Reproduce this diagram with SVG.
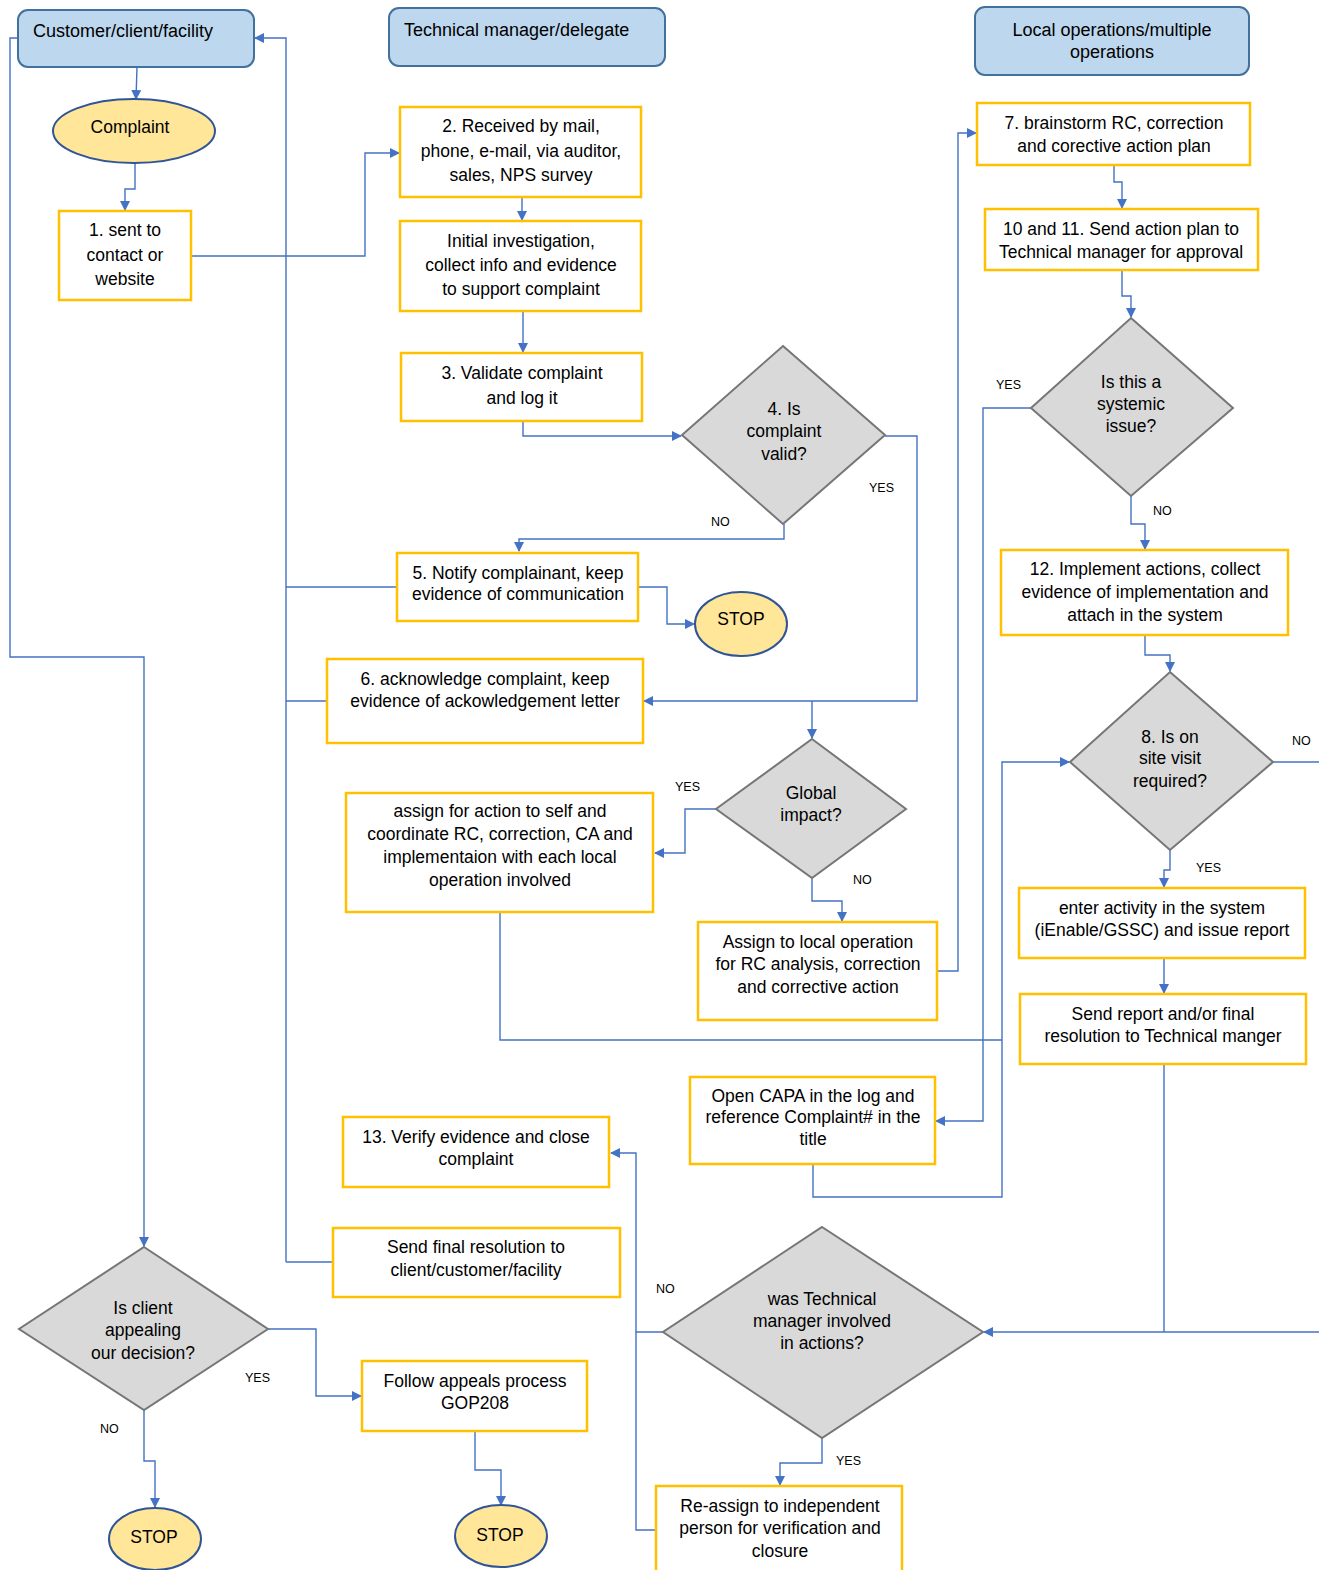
<svg xmlns="http://www.w3.org/2000/svg" width="1319" height="1570" viewBox="0 0 1319 1570">
<style>
text{font-family:"Liberation Sans",Arial,sans-serif;font-size:17.5px;fill:#000}
.c{text-anchor:middle}
.h{font-size:18px}
.lbl{font-size:12.5px}
.hdr{fill:#BDD7EE;stroke:#41719C;stroke-width:2}
.box{fill:#fff;stroke:#FFC000;stroke-width:2.5}
.dia{fill:#D9D9D9;stroke:#767676;stroke-width:2}
.ell{fill:#FFE699;stroke:#2F5597;stroke-width:2}
.cn{fill:none;stroke:#4472C4;stroke-width:1.4}
.ar{marker-end:url(#arr)}
</style>
<defs>
<marker id="arr" viewBox="0 0 10 10" refX="9" refY="5" markerWidth="10" markerHeight="10" markerUnits="userSpaceOnUse" orient="auto">
<path d="M0,0 L10,5 L0,10 z" fill="#4472C4"/>
</marker>
</defs>
<rect width="1319" height="1570" fill="#fff"/>

<g id="connectors">
<path class="cn ar" d="M137,67 L136,99"/>
<path class="cn ar" d="M135,163 L135,189 L125,189 L125,210"/>
<path class="cn ar" d="M191,256 L365,256 L365,153 L399,153"/>
<path class="cn ar" d="M522,197 L522,220"/>
<path class="cn ar" d="M523,311 L523,352"/>
<path class="cn ar" d="M523,421 L523,436 L681,436"/>
<path class="cn ar" d="M784,524 L784,539 L519,539 L519,551"/>
<path class="cn ar" d="M885,436 L917,436 L917,701 L644,701"/>
<path class="cn ar" d="M812,701 L812,738"/>
<path class="cn ar" d="M638,587 L667,587 L667,624 L694,624"/>
<path class="cn ar" d="M286,1262 L286,38 L255,38"/>
<path class="cn" d="M397,587 L286,587 M327,701 L286,701 M333,1262 L286,1262"/>
<path class="cn ar" d="M716,809 L685,809 L685,853 L655,853"/>
<path class="cn ar" d="M812,878 L812,901 L842,901 L842,921"/>
<path class="cn ar" d="M937,971 L958,971 L958,133 L976,133"/>
<path class="cn ar" d="M500,912 L500,1040 L1002,1040 M813,1164 L813,1197 L1002,1197 L1002,762 L1069,762"/>
<path class="cn ar" d="M1114,165 L1114,182 L1122,182 L1122,208"/>
<path class="cn ar" d="M1122,270 L1122,296 L1131,296 L1131,317"/>
<path class="cn ar" d="M1031,408 L983,408 L983,1121 L936,1121"/>
<path class="cn ar" d="M1131,496 L1131,524 L1145,524 L1145,549"/>
<path class="cn ar" d="M1145,635 L1145,655 L1170,655 L1170,671"/>
<path class="cn" d="M1273,762 L1319,762"/>
<path class="cn ar" d="M1170,850 L1170,870 L1164,870 L1164,887"/>
<path class="cn ar" d="M1164,958 L1164,993"/>
<path class="cn ar" d="M1319,1332 L984,1332"/>
<path class="cn" d="M1164,1064 L1164,1332"/>
<path class="cn ar" d="M663,1332 L636,1332 L636,1153 L611,1153"/>
<path class="cn" d="M656,1530 L636,1530 L636,1332"/>
<path class="cn ar" d="M822,1438 L822,1463 L780,1463 L780,1485"/>
<path class="cn ar" d="M18,38 L10,38 L10,657 L144,657 L144,1246"/>
<path class="cn ar" d="M268,1329 L316,1329 L316,1396 L361,1396"/>
<path class="cn ar" d="M144,1410 L144,1461 L155,1461 L155,1507"/>
<path class="cn ar" d="M475,1431 L475,1470 L501,1470 L501,1505"/>
</g>

<g id="h-customer"><rect class="hdr" x="18" y="10" width="236" height="57" rx="10"/><text class="h" x="33" y="37">Customer/client/facility</text></g>
<g id="h-technical"><rect class="hdr" x="389" y="8" width="276" height="58" rx="10"/><text class="h" x="404" y="36">Technical manager/delegate</text></g>
<g id="h-local"><rect class="hdr" x="975" y="7" width="274" height="68" rx="10"/><text class="c h" x="1112" y="36">Local operations/multiple</text><text class="c h" x="1112" y="58">operations</text></g>

<g id="complaint"><ellipse class="ell" cx="134" cy="131" rx="81" ry="32"/><text class="c" x="130" y="133">Complaint</text></g>
<g id="n1"><rect class="box" x="59" y="211" width="132" height="89"/><text class="c" x="125" y="236">1. sent to</text><text class="c" x="125" y="261">contact or</text><text class="c" x="125" y="285">website</text></g>
<g id="n2"><rect class="box" x="400" y="107" width="241" height="90"/><text class="c" x="521" y="132">2. Received by mail,</text><text class="c" x="521" y="157">phone, e-mail, via auditor,</text><text class="c" x="521" y="181">sales, NPS survey</text></g>
<g id="ninit"><rect class="box" x="400" y="221" width="241" height="90"/><text class="c" x="521" y="247">Initial investigation,</text><text class="c" x="521" y="271">collect info and evidence</text><text class="c" x="521" y="295">to support complaint</text></g>
<g id="n3"><rect class="box" x="401" y="353" width="241" height="68"/><text class="c" x="522" y="379">3. Validate complaint</text><text class="c" x="522" y="404">and log it</text></g>
<g id="d4"><polygon class="dia" points="783,346 885,435 783,524 682,435"/><text class="c" x="784" y="415">4. Is</text><text class="c" x="784" y="437">complaint</text><text class="c" x="784" y="460">valid?</text></g>
<text class="lbl" x="869" y="492">YES</text>
<text class="lbl" x="711" y="526">NO</text>
<g id="n5"><rect class="box" x="397" y="553" width="241" height="68"/><text class="c" x="518" y="579">5. Notify complainant, keep</text><text class="c" x="518" y="600">evidence of communication</text></g>
<g id="stop1"><ellipse class="ell" cx="741" cy="624" rx="46" ry="32"/><text class="c" x="741" y="625">STOP</text></g>
<g id="n6"><rect class="box" x="327" y="659" width="316" height="84"/><text class="c" x="485" y="685">6. acknowledge complaint, keep</text><text class="c" x="485" y="707">evidence of ackowledgement letter</text></g>
<g id="dglobal"><polygon class="dia" points="812,739 906,809 812,878 716,809"/><text class="c" x="811" y="799">Global</text><text class="c" x="811" y="821">impact?</text></g>
<text class="lbl" x="675" y="791">YES</text>
<text class="lbl" x="853" y="884">NO</text>
<g id="nassign-self"><rect class="box" x="346" y="793" width="307" height="119"/><text class="c" x="500" y="817">assign for action to self and</text><text class="c" x="500" y="840">coordinate RC, correction, CA and</text><text class="c" x="500" y="863">implementaion with each local</text><text class="c" x="500" y="886">operation involved</text></g>
<g id="nassign-local"><rect class="box" x="698" y="922" width="239" height="98"/><text class="c" x="818" y="948">Assign to local operation</text><text class="c" x="818" y="970">for RC analysis, correction</text><text class="c" x="818" y="993">and corrective action</text></g>

<g id="n7"><rect class="box" x="977" y="103" width="273" height="62"/><text class="c" x="1114" y="129">7. brainstorm RC, correction</text><text class="c" x="1114" y="152">and corective action plan</text></g>
<g id="n10"><rect class="box" x="985" y="209" width="273" height="61"/><text class="c" x="1121" y="235">10 and 11. Send action plan to</text><text class="c" x="1121" y="258">Technical manager for approval</text></g>
<g id="dsys"><polygon class="dia" points="1131,318 1233,408 1131,496 1031,408"/><text class="c" x="1131" y="388">Is this a</text><text class="c" x="1131" y="410">systemic</text><text class="c" x="1131" y="432">issue?</text></g>
<text class="lbl" x="996" y="389">YES</text>
<text class="lbl" x="1153" y="515">NO</text>
<g id="n12"><rect class="box" x="1001" y="550" width="287" height="85"/><text class="c" x="1145" y="575">12. Implement actions, collect</text><text class="c" x="1145" y="598">evidence of implementation and</text><text class="c" x="1145" y="621">attach in the system</text></g>
<g id="d8"><polygon class="dia" points="1170,672 1273,762 1170,850 1070,762"/><text class="c" x="1170" y="743">8. Is on</text><text class="c" x="1170" y="764">site visit</text><text class="c" x="1170" y="787">required?</text></g>
<text class="lbl" x="1292" y="745">NO</text>
<text class="lbl" x="1196" y="872">YES</text>
<g id="nenter"><rect class="box" x="1019" y="888" width="286" height="70"/><text class="c" x="1162" y="914">enter activity in the system</text><text class="c" x="1162" y="936">(iEnable/GSSC) and issue report</text></g>
<g id="nsend"><rect class="box" x="1020" y="994" width="286" height="70"/><text class="c" x="1163" y="1020">Send report and/or final</text><text class="c" x="1163" y="1042">resolution to Technical manger</text></g>
<g id="ncapa"><rect class="box" x="690" y="1077" width="245" height="87"/><text class="c" x="813" y="1102">Open CAPA in the log and</text><text class="c" x="813" y="1123">reference Complaint# in the</text><text class="c" x="813" y="1145">title</text></g>

<g id="n13"><rect class="box" x="343" y="1117" width="266" height="70"/><text class="c" x="476" y="1143">13. Verify evidence and close</text><text class="c" x="476" y="1165">complaint</text></g>
<g id="nfinal"><rect class="box" x="333" y="1228" width="287" height="69"/><text class="c" x="476" y="1253">Send final resolution to</text><text class="c" x="476" y="1276">client/customer/facility</text></g>
<g id="dtech"><polygon class="dia" points="822,1227 983,1332 822,1438 663,1332"/><text class="c" x="822" y="1305">was Technical</text><text class="c" x="822" y="1327">manager involved</text><text class="c" x="822" y="1349">in actions?</text></g>
<text class="lbl" x="656" y="1293">NO</text>
<text class="lbl" x="836" y="1465">YES</text>
<g id="nreassign"><rect class="box" x="656" y="1486" width="246" height="90"/><text class="c" x="780" y="1512">Re-assign to independent</text><text class="c" x="780" y="1534">person for verification and</text><text class="c" x="780" y="1557">closure</text></g>

<g id="dclient"><polygon class="dia" points="144,1247 268,1329 144,1410 19,1329"/><text class="c" x="143" y="1314">Is client</text><text class="c" x="143" y="1336">appealing</text><text class="c" x="143" y="1359">our decision?</text></g>
<text class="lbl" x="245" y="1382">YES</text>
<text class="lbl" x="100" y="1433">NO</text>
<g id="nappeal"><rect class="box" x="362" y="1361" width="225" height="70"/><text class="c" x="475" y="1387">Follow appeals process</text><text class="c" x="475" y="1409">GOP208</text></g>
<g id="stop2"><ellipse class="ell" cx="155" cy="1539" rx="46" ry="31"/><text class="c" x="154" y="1543">STOP</text></g>
<g id="stop3"><ellipse class="ell" cx="501" cy="1536" rx="46" ry="31"/><text class="c" x="500" y="1541">STOP</text></g>
</svg>
